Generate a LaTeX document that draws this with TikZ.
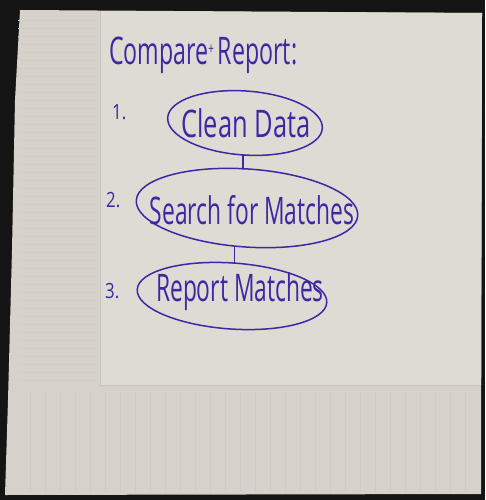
\documentclass[tikz,border=0pt]{standalone}
\usepackage{fontspec}
\setmainfont{Open Sans}
\usetikzlibrary{shapes.geometric}
\definecolor{ink}{RGB}{60,40,165}
\definecolor{napkin}{RGB}{222,219,212}
\definecolor{band}{RGB}{214,210,203}
\definecolor{rib}{RGB}{200,196,189}
\tikzset{
  inkstroke/.style={draw=ink, line width=1.5pt, line cap=round},
  stepoval/.style={ellipse, inkstroke, inner sep=0pt, outer sep=0pt},
  handtext/.style={text=ink, inner sep=0pt},
}
\newcommand{\hand}[3]{\scalebox{#1}[1]{\fontsize{#2}{#2}\selectfont #3}}
\begin{document}
\begin{tikzpicture}[x=1pt,y=-1pt]
\useasboundingbox (0,0) rectangle (485,500);
% background and napkin
\fill[black!92] (0,0) rectangle (485,500);
\fill[band] (20,10) -- (482,13) -- (481,494) -- (5,495) -- (8,400) -- (12,250) -- (15,100) -- cycle;
\fill[napkin] (100,11) -- (482,13) -- (481,385) -- (100,385) -- cycle;
\draw[rib, line width=0.8pt] (100,11) -- (100,385) -- (481,385);
\foreach \xx in {30,45,...,470} \draw[rib!50!band, line width=0.5pt] (\xx,392) -- (\xx,492);
\foreach \yy in {20,28,...,380} \draw[rib!35!band, line width=0.4pt] (18,\yy) -- (96,\yy);
% title
\node[handtext, anchor=base west] (title) at (109,65)
  {\hand{0.61}{38}{Compare\raisebox{10pt}{\fontsize{16}{16}\selectfont +}\,Report:}};
% numbers
\node[handtext, anchor=base west] (n1) at (112,120) {\hand{0.8}{21}{1.}};
\node[handtext, anchor=base west] (n2) at (106,207) {\hand{0.8}{21}{2.}};
\node[handtext, anchor=base west] (n3) at (105,298) {\hand{0.8}{21}{3.}};
% steps
\node[stepoval, minimum width=155pt, minimum height=64pt, rotate=-4] (e1) at (245,123) {};
\node[stepoval, minimum width=222pt, minimum height=78pt, rotate=-4] (e2) at (247,208) {};
\node[stepoval, minimum width=190pt, minimum height=66pt, rotate=-4] (e3) at (232,296) {};
\node[handtext] (t1) at (246,123) {\hand{0.67}{38}{Clean Data}};
\node[handtext] (t2) at (252,210) {\hand{0.6}{38}{Search for Matches}};
\node[handtext] (t3) at (240,292) {\hand{0.6}{38}{Report Matches}};
% connectors
\draw[inkstroke] (e1.south) -- (e1.south |- e2.north);
\draw[inkstroke] (e3.north) -- (e3.north |- e2.south);
\end{tikzpicture}
\end{document}
